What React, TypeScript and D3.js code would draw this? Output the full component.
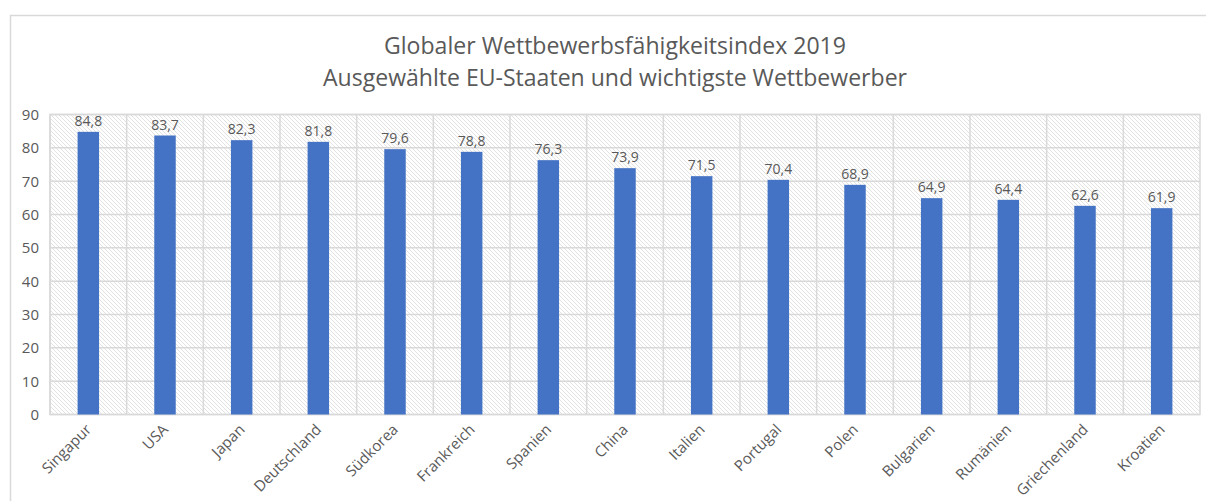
import React from "react";
import * as d3 from "d3";

const categories = ["Singapur", "USA", "Japan", "Deutschland", "Südkorea", "Frankreich", "Spanien", "China", "Italien", "Portugal", "Polen", "Bulgarien", "Rumänien", "Griechenland", "Kroatien"];
const values = [84.8, 83.7, 82.3, 81.8, 79.6, 78.8, 76.3, 73.9, 71.5, 70.4, 68.9, 64.9, 64.4, 62.6, 61.9];
const yTicks = [0, 10, 20, 30, 40, 50, 60, 70, 80, 90];
const titleLines = ["Globaler Wettbewerbsfähigkeitsindex 2019", "Ausgewählte EU-Staaten und wichtigste Wettbewerber"];

const W = 1206, H = 501;
const left = 50, right = 1200, top = 114.5, bottom = 414.5;
const font = "'Open Sans', 'Liberation Sans', sans-serif";
const grey = "#595959";

export default function App() {
  const x = d3.scaleBand<string>().domain(categories).range([left, right]).paddingInner(0.72).paddingOuter(0.36);
  const xb = d3.scaleBand<string>().domain(categories).range([left, right]);
  const y = d3.scaleLinear().domain([0, 90]).range([bottom, top]);
  const fmt = (v: number) => v.toFixed(1).replace(".", ",");
  return (
    <svg width={W} height={H} style={{ position: "absolute", left: 0, top: 0, background: "#fff" }}>
      <defs>
        <pattern id="hatch" patternUnits="userSpaceOnUse" width="4" height="4">
          <rect width="4" height="4" fill="#fff" />
          <path d="M-1,-1 L5,5 M-1,3 L1,5 M3,-1 L5,1" stroke="#e2e2e2" strokeWidth="1" />
        </pattern>
      </defs>
      <path d={`M10.5,${H} L10.5,15.5 L${W},15.5`} fill="none" stroke="#d9d9d9" strokeWidth="1.5" />
      {titleLines.map((t, i) => (
        <text key={i} x={615} y={54 + i * 32} textAnchor="middle" fontFamily={font} fontSize={24} fill={grey} textLength={i === 0 ? 462 : 584} lengthAdjust="spacingAndGlyphs">{t}</text>
      ))}
      <rect x={left} y={top} width={right - left} height={bottom - top} fill="url(#hatch)" />
      {yTicks.map((t) => (
        <line key={"h" + t} x1={left} x2={right} y1={y(t)} y2={y(t)} stroke="#d9d9d9" strokeWidth={1.5} />
      ))}
      {categories.map((c) => (
        <line key={"v" + c} x1={(xb(c) as number)} x2={(xb(c) as number)} y1={top} y2={bottom} stroke="#d9d9d9" strokeWidth={1.5} />
      ))}
      <rect x={left} y={top} width={right - left} height={bottom - top} fill="none" stroke="#d9d9d9" strokeWidth={1.5} />
      {yTicks.map((t) => (
        <text key={"yt" + t} x={39} y={y(t) + 5.5} textAnchor="end" fontFamily={font} fontSize={15} fill={grey}>{t}</text>
      ))}
      {categories.map((c, i) => {
        const bx = x(c) as number;
        const bw = x.bandwidth();
        const cx = bx + bw / 2;
        return (
          <g key={c}>
            <rect x={bx} y={y(values[i])} width={bw} height={bottom - y(values[i])} fill="#4472C4" />
            <text x={cx} y={y(values[i]) - 6} textAnchor="middle" fontFamily={font} fontSize={14} fill={grey}>{fmt(values[i])}</text>
            <text transform={`translate(${cx + 4},${bottom + 16}) rotate(-45)`} textAnchor="end" fontFamily={font} fontSize={15} fill={grey}>{c}</text>
          </g>
        );
      })}
    </svg>
  );
}
